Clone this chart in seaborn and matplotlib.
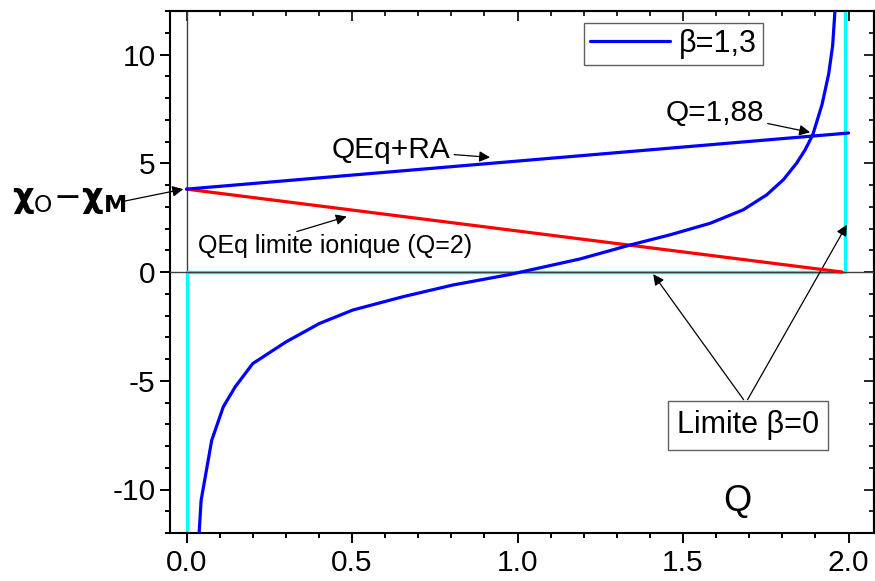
import numpy as np
import matplotlib
matplotlib.use("Agg")
import matplotlib.pyplot as plt
from matplotlib.ticker import MultipleLocator, FormatStrFormatter
from matplotlib.lines import Line2D
import seaborn as sns

# blue curve, beta = 1,3
q_curve = [0.038, 0.044, 0.076, 0.111, 0.147, 0.2, 0.301, 0.401, 0.502, 0.653,
           0.804, 0.975, 1.189, 1.34, 1.461, 1.582, 1.682, 1.753, 1.803, 1.843,
           1.869, 1.892, 1.92, 1.94, 1.952, 1.959]
chi_curve = [-12.0, -10.5, -7.74, -6.2, -5.28, -4.21, -3.21, -2.37, -1.75, -1.14,
             -0.6, -0.12, 0.6, 1.24, 1.71, 2.24, 2.86, 3.55, 4.24, 5.0,
             5.62, 6.31, 7.7, 9.1, 10.4, 12.0]

# QEq+RA straight line
q_rara = [0.0, 2.0]
chi_rara = [3.81, 6.39]

# QEq ionic limit
q_ionic = [0.0, 1.98]
chi_ionic = [3.81, 0.0]

# beta = 0 limit (step)
q_limit = [0.0, 0.0, 1.99, 1.99]
chi_limit = [-12.0, 0.0, 0.0, 12.0]

legend_label = "\u03b2=1,3"

sns.set_theme(style="white")
plt.rcParams["font.family"] = ["Liberation Sans", "DejaVu Sans"]
plt.rcParams["mathtext.fontset"] = "dejavusans"
plt.rcParams["axes.unicode_minus"] = False
plt.rcParams["text.color"] = "black"

fig = plt.figure(figsize=(8.75, 5.81), dpi=100)
ax = fig.add_axes([170 / 875, 48 / 581, 704 / 875, 522 / 581])

ax.axhline(0, color="#404040", lw=1.0, zorder=3)
ax.axvline(0, color="#404040", lw=1.0, zorder=1)

sns.lineplot(x=q_limit, y=chi_limit, sort=False, estimator=None, color="#00ffff",
             lw=2.4, ax=ax, zorder=2)
sns.lineplot(x=q_ionic, y=chi_ionic, sort=False, estimator=None, color="#ff0000",
             lw=2.3, ax=ax, zorder=4)
sns.lineplot(x=q_rara, y=chi_rara, sort=False, estimator=None, color="#0000ff",
             lw=2.3, ax=ax, zorder=5)
sns.lineplot(x=q_curve, y=chi_curve, sort=False, estimator=None, color="#0000ff",
             lw=2.3, ax=ax, zorder=5)

ax.set_xlim(-0.05, 2.077)
ax.set_ylim(-12.0, 12.0)
ax.xaxis.set_major_locator(MultipleLocator(0.5))
ax.xaxis.set_minor_locator(MultipleLocator(0.1))
ax.yaxis.set_major_locator(MultipleLocator(5))
ax.yaxis.set_minor_locator(MultipleLocator(1))
ax.xaxis.set_major_formatter(FormatStrFormatter("%.1f"))
ax.set_xlabel("")
ax.set_ylabel("")

for s in ax.spines.values():
    s.set_linewidth(1.5)
    s.set_color("black")

ax.tick_params(axis="both", which="both", direction="out", colors="black",
               labelsize=21.5, width=1.4)
ax.tick_params(axis="both", which="major", length=7.5)
ax.tick_params(axis="both", which="minor", length=3.8)
ax.tick_params(axis="x", pad=4)
ax.tick_params(axis="y", pad=3)
ax.tick_params(left=True, bottom=True, which="both")

# mirrored ticks pointing inward on top and right
top = ax.secondary_xaxis("top")
top.xaxis.set_major_locator(MultipleLocator(0.5))
top.xaxis.set_minor_locator(MultipleLocator(0.1))
top.tick_params(which="both", direction="in", labeltop=False, width=1.4)
top.tick_params(which="major", length=7.5)
top.tick_params(which="minor", length=3.8)
top.spines["top"].set_linewidth(1.5)
right = ax.secondary_yaxis("right")
right.yaxis.set_major_locator(MultipleLocator(5))
right.yaxis.set_minor_locator(MultipleLocator(1))
right.tick_params(which="both", direction="in", labelright=False, width=1.4)
right.tick_params(which="major", length=7.5)
right.tick_params(which="minor", length=3.8)
right.spines["right"].set_linewidth(1.5)

# legend
handle = Line2D([], [], color="#0000ff", lw=2.3)
leg = ax.legend([handle], [legend_label], loc="upper left",
                bbox_to_anchor=(0.588, 0.977), borderaxespad=0, fontsize=22,
                frameon=True, fancybox=False, edgecolor="#606060",
                framealpha=1, handlelength=2.6, borderpad=0.2,
                handletextpad=0.3)
leg.get_frame().set_linewidth(1.0)

arrow = dict(arrowstyle="-|>", color="black", lw=0.9, mutation_scale=16,
             shrinkA=0, shrinkB=0)

ax.text(1.663, -10.55, "Q", fontsize=26, ha="center", va="center")

ax.annotate("QEq+RA", xy=(0.917, 5.27), xytext=(0.619, 5.62), fontsize=21.5,
            ha="center", va="center", arrowprops=arrow)
ax.annotate("", xy=(0.484, 2.55), xytext=(0.333, 1.86), arrowprops=arrow)
ax.text(0.449, 1.2, "QEq limite ionique (Q=2)", fontsize=18, ha="center",
        va="center")
ax.annotate("Q=1,88", xy=(1.884, 6.42), xytext=(1.597, 7.33), fontsize=21.5,
            ha="center", va="center", arrowprops=arrow)

box = dict(boxstyle="square,pad=0.3", fc="white", ec="#606060", lw=1.0)
ax.text(1.696, -7.05, "Limite \u03b2=0", fontsize=22, ha="center", va="center",
        bbox=box)
ax.annotate("", xy=(1.41, -0.1), xytext=(1.683, -5.87), arrowprops=arrow)
ax.annotate("", xy=(1.995, 2.17), xytext=(1.695, -5.87), arrowprops=arrow)

# y-axis label with arrow outside the axes
fig.text(12 / 875, 1 - 201 / 581,
         r"$\mathbf{\chi}_{\mathrm{O}}{-}\mathbf{\chi}_{\mathbf{M}}$",
         fontsize=24, ha="left", va="center")
ax.annotate("", xy=(-0.01, 3.81), xytext=(125 / 875, 1 - 201 / 581),
            textcoords="figure fraction", arrowprops=arrow,
            annotation_clip=False)

fig.savefig("out.png", dpi=100)
